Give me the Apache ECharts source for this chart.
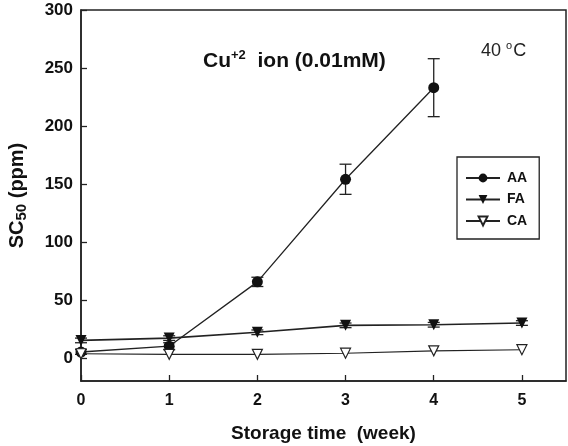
<!DOCTYPE html>
<html>
<head>
<meta charset="utf-8">
<script src="https://cdn.jsdelivr.net/npm/echarts@6/dist/echarts.min.js"></script>
<style>
  html, body { margin: 0; padding: 0; background: #fff; }
  #chart { width: 568px; height: 446px; }
</style>
</head>
<body>
<div id="chart"></div>
<script>
// storage time (week)
const weeks = [0, 1, 2, 3, 4, 5];
// SC50 values (ppm)
const aaValues = [5, 10, 65.5, 154, 233];
const aaErrors = [2, 3, 4, 13, 25];
const faValues = [15, 17, 22, 28, 28.5, 30];
const faErrors = [2, 2, 2, 2, 2, 2];
const caValues = [3.5, 3, 3, 4, 6, 7];
const yTicks = [0, 50, 100, 150, 200, 250, 300];

const lineColor = '#222';
const fontFamily = 'Liberation Sans, Arial, sans-serif';

function pairs(vals) {
    return vals.map((v, i) => [weeks[i], v]);
}

function errorData(vals, errs) {
    return vals.map((v, i) => [weeks[i], v - errs[i], v + errs[i]]);
}

function renderErrorBar(params, api) {
    const x = api.value(0);
    const lo = api.coord([x, api.value(1)]);
    const hi = api.coord([x, api.value(2)]);
    const cap = 6;
    const style = { stroke: lineColor, lineWidth: 1.3 };
    return {
        type: 'group',
        children: [
            { type: 'line', shape: { x1: lo[0], y1: lo[1], x2: hi[0], y2: hi[1] }, style: style },
            { type: 'line', shape: { x1: hi[0] - cap, y1: hi[1], x2: hi[0] + cap, y2: hi[1] }, style: style },
            { type: 'line', shape: { x1: lo[0] - cap, y1: lo[1], x2: lo[0] + cap, y2: lo[1] }, style: style }
        ]
    };
}

const chart = echarts.init(document.getElementById('chart'));

const option = {
    animation: false,
    textStyle: { fontFamily: fontFamily },
    title: [
        {
            text: '{b|Cu}{sup|+2}{b|  ion (0.01mM)}',
            left: 198,
            top: 44,
            textStyle: {
                rich: {
                    b: { fontSize: 21, fontWeight: 'bold', color: '#111', fontFamily: fontFamily },
                    sup: { fontSize: 13, fontWeight: 'bold', color: '#111', fontFamily: fontFamily, padding: [0, 0, 12, 0] }
                }
            }
        },
        {
            text: '{n|40 }{sup|o}{n|C}',
            left: 476,
            top: 35,
            textStyle: {
                rich: {
                    n: { fontSize: 18, fontWeight: 'normal', color: '#222', fontFamily: fontFamily },
                    sup: { fontSize: 11, fontWeight: 'normal', color: '#222', fontFamily: fontFamily, padding: [0, 1, 12, 0] }
                }
            }
        }
    ],
    legend: {
        orient: 'vertical',
        left: 457,
        top: 157,
        width: 82,
        padding: [14, 12, 11, 8],
        itemWidth: 34,
        itemHeight: 11,
        itemGap: 7.5,
        borderColor: lineColor,
        borderWidth: 1.3,
        data: ['AA', 'FA', 'CA'],
        textStyle: { fontSize: 14, fontWeight: 'bold', color: '#111', padding: [0, 0, 0, 2] }
    },
    grid: {
        left: 81,
        right: 2,
        top: 10,
        bottom: 65,
        outerBoundsMode: 'none',
        show: true,
        borderColor: lineColor,
        borderWidth: 1.5,
        backgroundColor: 'transparent'
    },
    xAxis: {
        type: 'value',
        min: 0,
        max: 5.5,
        name: 'Storage time  (week)',
        nameLocation: 'middle',
        nameGap: 43,
        nameTextStyle: { fontSize: 19, fontWeight: 'bold', color: '#111' },
        axisLine: { onZero: false, lineStyle: { color: lineColor, width: 1.5 } },
        axisTick: { inside: true, length: 6, customValues: weeks, lineStyle: { color: lineColor, width: 1.3 } },
        axisLabel: { customValues: weeks, margin: 12, fontSize: 16, fontWeight: 'bold', color: '#111' },
        splitLine: { show: false }
    },
    yAxis: {
        type: 'value',
        min: -20,
        max: 300,
        name: '{b|SC}{sub|50}{b| (ppm)}',
        nameLocation: 'middle',
        nameRotate: 90,
        nameGap: 52,
        nameTextStyle: {
            rich: {
                b: { fontSize: 20, fontWeight: 'bold', color: '#111', fontFamily: fontFamily },
                sub: { fontSize: 15, fontWeight: 'bold', color: '#111', fontFamily: fontFamily, padding: [9, 0, 0, 0] }
            }
        },
        axisLine: { show: true, onZero: false, lineStyle: { color: lineColor, width: 1.5 } },
        axisTick: { show: true, inside: true, length: 6, customValues: yTicks, lineStyle: { color: lineColor, width: 1.3 } },
        axisLabel: { customValues: yTicks, margin: 8, fontSize: 17, fontWeight: 'bold', color: '#111' },
        splitLine: { show: false }
    },
    series: [
        {
            name: 'AA',
            type: 'line',
            data: pairs(aaValues),
            symbol: 'circle',
            symbolSize: 11,
            lineStyle: { color: lineColor, width: 1.3 },
            itemStyle: { color: '#111' },
            z: 3
        },
        {
            name: 'FA',
            type: 'line',
            data: pairs(faValues),
            symbol: 'triangle',
            symbolRotate: 180,
            symbolSize: 11,
            lineStyle: { color: lineColor, width: 1.6 },
            itemStyle: { color: '#111' },
            z: 3
        },
        {
            name: 'CA',
            type: 'line',
            data: pairs(caValues),
            symbol: 'triangle',
            symbolRotate: 180,
            symbolSize: 10,
            lineStyle: { color: lineColor, width: 1.1 },
            itemStyle: { color: '#fff', borderColor: lineColor, borderWidth: 1.2 },
            z: 3
        },
        {
            name: 'AA error',
            type: 'custom',
            data: errorData(aaValues, aaErrors),
            renderItem: renderErrorBar,
            encode: { x: 0, y: [1, 2] },
            z: 2
        },
        {
            name: 'FA error',
            type: 'custom',
            data: errorData(faValues, faErrors),
            renderItem: renderErrorBar,
            encode: { x: 0, y: [1, 2] },
            z: 2
        }
    ]
};

chart.setOption(option);
</script>
</body>
</html>
